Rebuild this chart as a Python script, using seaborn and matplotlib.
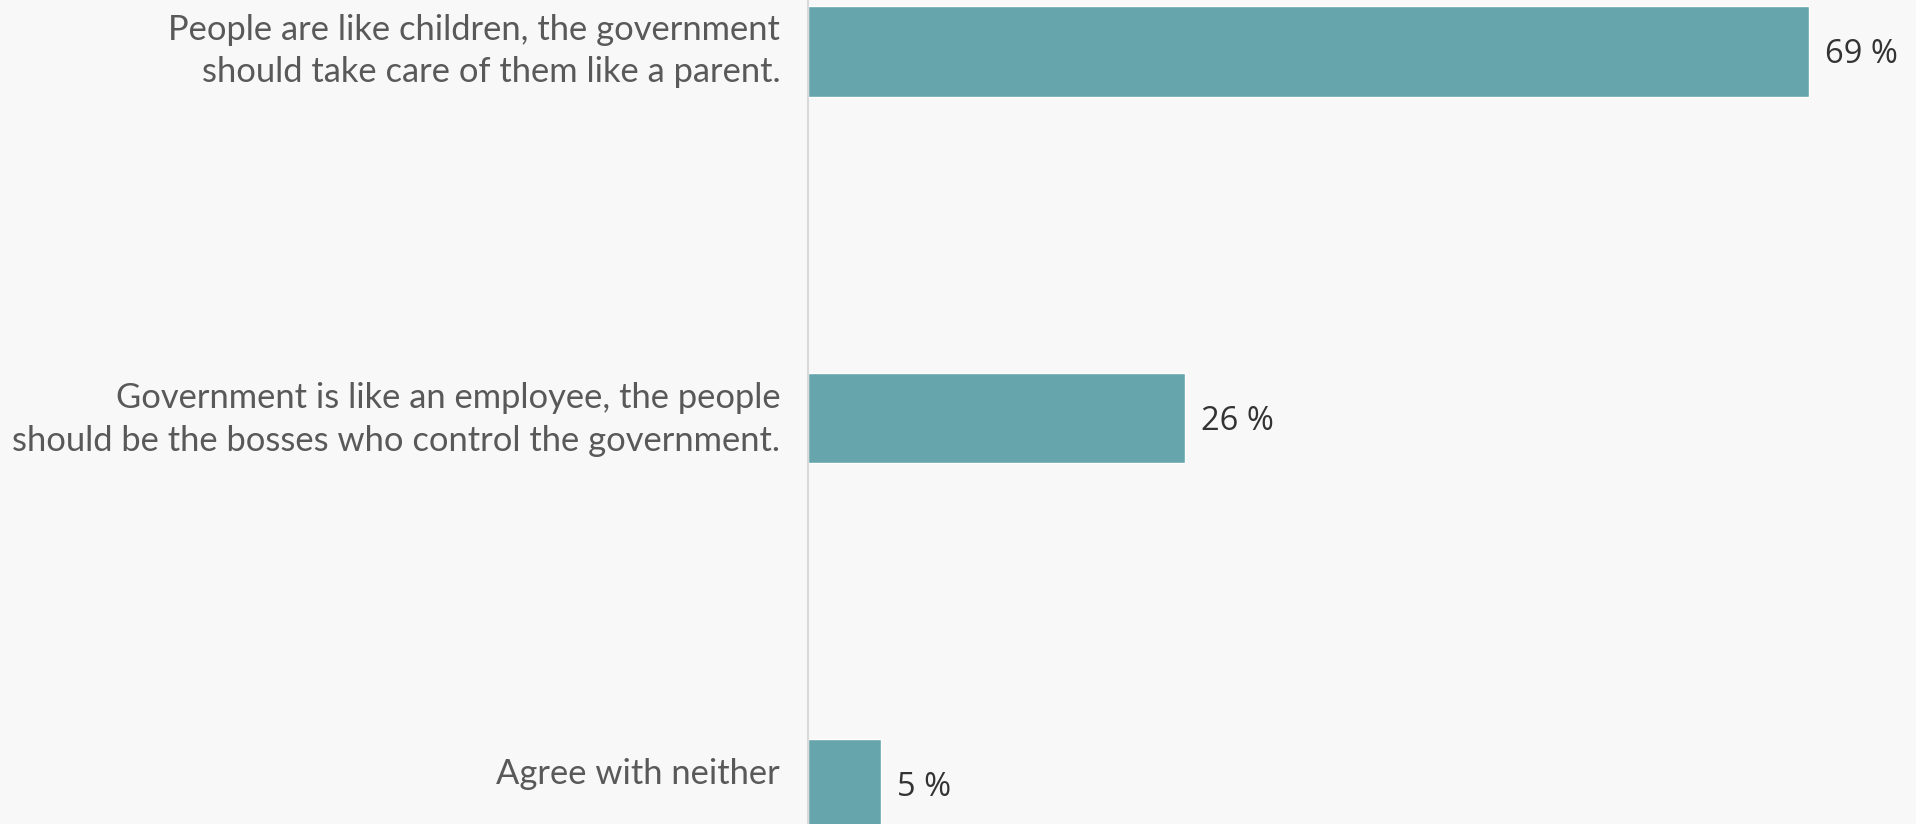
import matplotlib
matplotlib.use("Agg")
import matplotlib.pyplot as plt
import matplotlib.transforms as mtransforms
import seaborn as sns
import pandas as pd

categories = [
    "People are like children, the government\nshould take care of them like a parent.",
    "Government is like an employee, the people\nshould be the bosses who control the government.",
    "Agree with neither",
]
values = [69, 26, 5]
value_labels = ["69 %", "26 %", "5 %"]

BG = "#f8f8f8"
BAR = "#66a5ab"

sns.set_theme(style="white")
plt.rcParams["font.family"] = ["Lato", "DejaVu Sans"]

W, H = 1916, 824
fig = plt.figure(figsize=(W / 100, H / 100), dpi=100, facecolor=BG)
left_px = 808
ax = fig.add_axes([left_px / W, 0, (W - left_px) / W, 1], facecolor=BG)

df = pd.DataFrame({"cat": categories, "val": values})
sns.barplot(data=df, x="val", y="cat", orient="h", color=BAR, width=0.248,
            saturation=1, ax=ax)

px_per_unit = 1001 / 69
ax.set_xlim(0, (W - left_px) / px_per_unit)
spacing = 366.5
c0 = 51.5
ax.set_ylim((H - c0) / spacing, -c0 / spacing)

for i, (v, lab) in enumerate(zip(values, value_labels)):
    ax.text(v + 16 / px_per_unit, i + 3 / spacing, lab, va="center", ha="left",
            fontsize=23.5, color="#333333", family=["Open Sans", "DejaVu Sans"])

ax.set_xlabel("")
ax.set_ylabel("")
ax.set_xticks([])
ax.tick_params(axis="y", length=0, pad=20)
label_shift_px = [9, 7, 14]
for t, sh in zip(ax.get_yticklabels(), label_shift_px):
    t.set_fontsize(24.8)
    t.set_color("#595959")
    t.set_horizontalalignment("right")
    t.set_multialignment("right")
    t.set_linespacing(1.42)
    t.set_transform(t.get_transform() + mtransforms.Affine2D().translate(0, sh))

for s in ["top", "right", "bottom"]:
    ax.spines[s].set_visible(False)
ax.spines["left"].set_color("#d9d9d9")
ax.spines["left"].set_linewidth(1.5)

fig.savefig("out.png", dpi=100, facecolor=BG)
